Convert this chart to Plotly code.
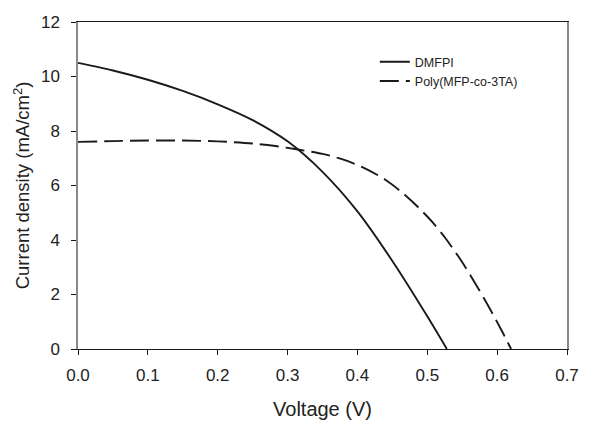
import plotly.graph_objects as go

# DMFPI
v_dmfpi = [0, 0.05, 0.10, 0.15, 0.20, 0.25, 0.30, 0.35, 0.40, 0.45, 0.50, 0.528]
j_dmfpi = [10.5, 10.22, 9.88, 9.47, 8.98, 8.4, 7.62, 6.5, 5.05, 3.23, 1.2, 0.0]

# Poly(MFP-co-3TA)
v_poly = [0, 0.05, 0.10, 0.15, 0.20, 0.25, 0.28, 0.315, 0.35, 0.38, 0.41, 0.44, 0.465, 0.487,
          0.508, 0.525, 0.547, 0.567, 0.588, 0.607, 0.62]
j_poly = [7.6, 7.63, 7.65, 7.65, 7.62, 7.54, 7.46, 7.32, 7.16, 6.95, 6.64, 6.21, 5.72, 5.2,
          4.64, 4.1, 3.3, 2.48, 1.55, 0.65, 0.0]

x_ticks = [0.0, 0.1, 0.2, 0.3, 0.4, 0.5, 0.6, 0.7]
y_ticks = [0, 2, 4, 6, 8, 10, 12]

fig = go.Figure()
fig.add_trace(go.Scatter(x=v_dmfpi, y=j_dmfpi, mode="lines", name="DMFPI",
                         line=dict(color="#1a1a1a", width=1.9, shape="spline", smoothing=0.8)))
fig.add_trace(go.Scatter(x=v_poly, y=j_poly, mode="lines", name="Poly(MFP-co-3TA)",
                         line=dict(color="#1a1a1a", width=1.9, dash="19px,7px", shape="spline", smoothing=0.8)))

font_family = "Liberation Sans, Arial, sans-serif"
fig.update_layout(
    width=600, height=443,
    margin=dict(l=78, r=33, t=22, b=94),
    plot_bgcolor="white", paper_bgcolor="white",
    font=dict(family=font_family, color="#222222"),
    showlegend=True,
    legend=dict(x=0.607, y=0.923, xanchor="left", yanchor="top",
                bgcolor="rgba(0,0,0,0)", font=dict(size=12.5, color="#222222"),
                tracegroupgap=0),
    xaxis=dict(range=[0, 0.7], tickvals=x_ticks, ticktext=[f"{t:.1f}" for t in x_ticks],
               showgrid=False, zeroline=False, showline=True, linecolor="#1a1a1a", linewidth=1.3,
               mirror=True, ticks="outside", ticklen=5, tickcolor="#1a1a1a", tickwidth=1.3,
               tickfont=dict(size=17), ticklabelstandoff=5, automargin=False,
               title=dict(text="Voltage (V)", font=dict(size=20), standoff=18)),
    yaxis=dict(range=[0, 12], tickvals=y_ticks,
               showgrid=False, zeroline=False, showline=True, linecolor="#8a8a8a", linewidth=1.5,
               mirror=True, ticks="outside", ticklen=5, tickcolor="#1a1a1a", tickwidth=1.3,
               tickfont=dict(size=17), ticklabelstandoff=8, automargin=False,
               title=dict(text="Current density (mA/cm<sup>2</sup>)", font=dict(size=18.5), standoff=6)),
)

fig.write_html("out.html", config={"displayModeBar": False},
               post_script="document.body.style.margin='0px';document.body.style.padding='0px';")
